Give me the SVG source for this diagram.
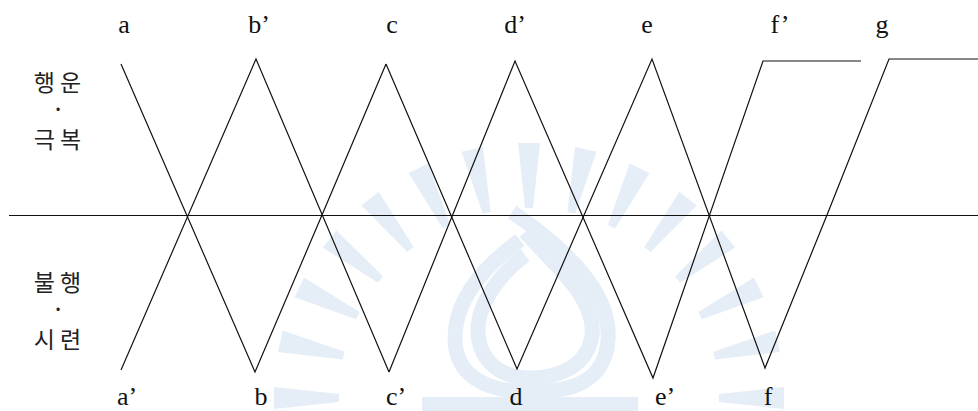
<svg xmlns="http://www.w3.org/2000/svg" xmlns:xlink="http://www.w3.org/1999/xlink" width="978" height="411" viewBox="0 0 978 411">
<style>
.ln{fill:none;stroke:#111;stroke-width:1.2}
.lb{font-family:"Liberation Serif",serif;font-size:26px;fill:#111;text-anchor:middle}
.ko{font-family:"Noto Sans CJK KR",sans-serif;font-size:23px;fill:#222;text-anchor:middle;letter-spacing:5px}
.dot{font-family:"Liberation Serif",serif;font-weight:bold;font-size:20px;fill:#222;text-anchor:middle}
.wm{fill:#e5eef7}
.wms{fill:none;stroke:#e5eef7;stroke-width:15}
</style>
<defs>
<polygon id="ray" points="-4,-190 4,-190 11,-255 -11,-255"/>
</defs>
<rect width="978" height="411" fill="#fff"/>
<g id="watermark">
<g class="wm">
<use xlink:href="#ray" transform="translate(529,398) rotate(-90)"/>
<use xlink:href="#ray" transform="translate(529,398) rotate(-77.14)"/>
<use xlink:href="#ray" transform="translate(529,398) rotate(-64.29)"/>
<use xlink:href="#ray" transform="translate(529,398) rotate(-51.43)"/>
<use xlink:href="#ray" transform="translate(529,398) rotate(-38.57)"/>
<use xlink:href="#ray" transform="translate(529,398) rotate(-25.71)"/>
<use xlink:href="#ray" transform="translate(529,398) rotate(-12.86)"/>
<use xlink:href="#ray" transform="translate(529,398) rotate(0)"/>
<use xlink:href="#ray" transform="translate(529,398) rotate(12.86)"/>
<use xlink:href="#ray" transform="translate(529,398) rotate(25.71)"/>
<use xlink:href="#ray" transform="translate(529,398) rotate(38.57)"/>
<use xlink:href="#ray" transform="translate(529,398) rotate(51.43)"/>
<use xlink:href="#ray" transform="translate(529,398) rotate(64.29)"/>
<use xlink:href="#ray" transform="translate(529,398) rotate(77.14)"/>
<use xlink:href="#ray" transform="translate(529,398) rotate(90)"/>
<rect x="422" y="397" width="216" height="14"/>
</g>
<path class="wms" d="M512 212 C560 245 612 290 608 340 C605 380 575 392 530 392 C485 392 455 375 455 338 C455 295 490 262 520 240"/>
<path class="wms" d="M525 232 C560 270 596 300 592 335 C588 365 560 378 530 378 C500 378 478 360 478 330 C478 300 505 270 525 255"/>
</g>
<g id="connectors">
<line class="ln" x1="9" y1="215.5" x2="978" y2="215.5"/>
<polyline class="ln" points="121,64 255,372 322,215 386,64"/>
<polyline class="ln" points="121,370 256,59 389,372"/>
<polyline class="ln" points="386,64 517,369 652,59 765,368 827,215 889,59 978,59"/>
<polyline class="ln" points="389,372 515,61 653,378 763,61 861,61"/>
</g>
<g id="labels-top">
<text class="lb" x="124" y="33">a</text>
<text class="lb" x="259" y="33">b’</text>
<text class="lb" x="392" y="33">c</text>
<text class="lb" x="515" y="33">d’</text>
<text class="lb" x="647" y="33">e</text>
<text class="lb" x="780" y="33">f’</text>
<text class="lb" x="882" y="33">g</text>
</g>
<g id="labels-bottom">
<text class="lb" x="127" y="405">a’</text>
<text class="lb" x="261" y="405">b</text>
<text class="lb" x="396" y="405">c’</text>
<text class="lb" x="516" y="405">d</text>
<text class="lb" x="665" y="405">e’</text>
<text class="lb" x="768" y="405">f</text>
</g>
<g id="side-top">
<text class="ko" x="60" y="91">행운</text>
<text class="dot" x="58" y="116">·</text>
<text class="ko" x="60" y="148">극복</text>
</g>
<g id="side-bottom">
<text class="ko" x="60" y="291">불행</text>
<text class="dot" x="58" y="316">·</text>
<text class="ko" x="60" y="348">시련</text>
</g>
</svg>
